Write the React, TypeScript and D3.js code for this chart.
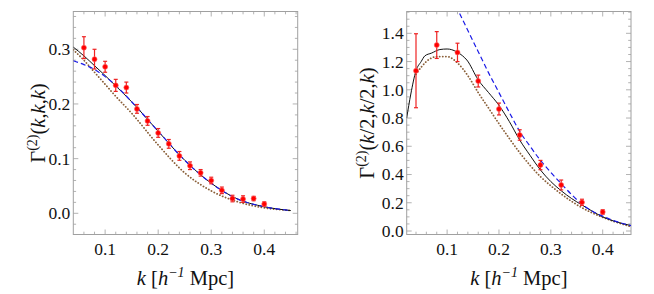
import React from "react";
import * as d3 from "d3";

// ---------- data: left panel Γ(2)(k,k,k) ----------
const leftPointK = [0.06, 0.08, 0.10, 0.12, 0.14, 0.16, 0.18, 0.20, 0.22, 0.24, 0.26, 0.28, 0.30, 0.32, 0.34, 0.36, 0.38, 0.40];
const leftPointVal = [0.303, 0.282, 0.268, 0.234, 0.230, 0.191, 0.169, 0.147, 0.127, 0.105, 0.087, 0.074, 0.060, 0.042, 0.027, 0.026, 0.027, 0.017];
const leftPointErr = [0.020, 0.018, 0.010, 0.011, 0.010, 0.008, 0.008, 0.008, 0.008, 0.008, 0.007, 0.006, 0.006, 0.006, 0.006, 0.006, 0.004, 0.004];

const leftCurveK = [0.04, 0.06, 0.08, 0.10, 0.12, 0.15, 0.20, 0.25, 0.30, 0.35, 0.40, 0.45];
const leftBlack = [0.304, 0.288, 0.270, 0.252, 0.233, 0.204, 0.150, 0.097, 0.055, 0.026, 0.012, 0.005];
const leftBlue = [0.279, 0.272, 0.263, 0.250, 0.234, 0.204, 0.150, 0.097, 0.055, 0.026, 0.012, 0.005];
const leftBrown = [0.299, 0.280, 0.258, 0.236, 0.214, 0.183, 0.125, 0.074, 0.041, 0.021, 0.010, 0.005];

// ---------- data: right panel Γ(2)(k/2,k/2,k) ----------
const rightPointK = [0.04, 0.08, 0.12, 0.16, 0.20, 0.24, 0.28, 0.32, 0.36, 0.40];
const rightPointVal = [1.135, 1.317, 1.265, 1.062, 0.864, 0.680, 0.467, 0.326, 0.203, 0.135];
const rightPointErr = [0.262, 0.095, 0.065, 0.042, 0.042, 0.037, 0.033, 0.035, 0.022, 0.016];

const rightBlackK = [0.022, 0.03, 0.04, 0.05, 0.057, 0.07, 0.086, 0.10, 0.118, 0.13, 0.138, 0.16, 0.18, 0.20, 0.22, 0.24, 0.26, 0.28, 0.30, 0.32, 0.34, 0.36, 0.38, 0.40, 0.42, 0.455];
const rightBlack = [0.80, 0.97, 1.135, 1.20, 1.24, 1.26, 1.285, 1.289, 1.27, 1.24, 1.211, 1.07, 0.98, 0.89, 0.775, 0.644, 0.535, 0.432, 0.35, 0.285, 0.23, 0.184, 0.14, 0.10, 0.072, 0.038];

const rightBrownK = [0.04, 0.05, 0.06, 0.08, 0.10, 0.12, 0.14, 0.16, 0.18, 0.20, 0.22, 0.24, 0.26, 0.28, 0.30, 0.32, 0.34, 0.36, 0.38, 0.40, 0.42, 0.455];
const rightBrown = [1.11, 1.16, 1.20, 1.235, 1.235, 1.19, 1.10, 0.98, 0.87, 0.76, 0.655, 0.555, 0.465, 0.385, 0.32, 0.262, 0.21, 0.165, 0.128, 0.097, 0.07, 0.03];

const rightBlueK = [0.11, 0.12, 0.14, 0.16, 0.18, 0.20, 0.22, 0.24, 0.26, 0.28, 0.30, 0.32, 0.34, 0.36, 0.38, 0.40, 0.42, 0.455];
const rightBlue = [1.64, 1.57, 1.42, 1.27, 1.12, 0.98, 0.84, 0.705, 0.60, 0.50, 0.415, 0.335, 0.258, 0.19, 0.14, 0.105, 0.075, 0.038];

// ---------- ticks ----------
const xMajorTicks = [0.1, 0.2, 0.3, 0.4];
const leftYMajorTicks = [0.0, 0.1, 0.2, 0.3];
const rightYMajorTicks = [0.0, 0.2, 0.4, 0.6, 0.8, 1.0, 1.2, 1.4];

const FRAME = "#a0a0a0";
const CSS = `svg.chart text, svg.chart tspan { font-family: "Liberation Serif", "Times New Roman" !important; }`;

function range(a: number, b: number, step: number) {
  const out: number[] = [];
  for (let v = a; v <= b + 1e-9; v += step) out.push(+v.toFixed(4));
  return out;
}

type PanelProps = {
  x0: number; x1: number; y0: number; y1: number;
  xDomain: [number, number]; yDomain: [number, number];
  yMajor: number[]; yMinorStep: number; yFormat: (v: number) => string;
  points: { k: number[]; v: number[]; e: number[] };
  black: { k: number[]; v: number[] };
  blue: { k: number[]; v: number[] };
  brown: { k: number[]; v: number[] };
  id: string;
  ylabel: React.ReactNode;
  ylabelX: number;
};

function Panel(p: PanelProps) {
  const x = d3.scaleLinear().domain(p.xDomain).range([p.x0, p.x1]);
  const y = d3.scaleLinear().domain(p.yDomain).range([p.y1, p.y0]);
  const line = d3
    .line<[number, number]>()
    .x((d) => x(d[0]))
    .y((d) => y(d[1]))
    .curve(d3.curveMonotoneX);
  const mk = (s: { k: number[]; v: number[] }) => line(s.k.map((k, i) => [k, s.v[i]]) as [number, number][]) || "";

  const xMinor = range(0.02, 0.46, 0.02).filter((v) => v > p.xDomain[0] && v < p.xDomain[1]);
  const yMinor = range(-0.1, 1.6, p.yMinorStep).filter((v) => v > p.yDomain[0] && v < p.yDomain[1]);
  const isMajor = (v: number, arr: number[]) => arr.some((m) => Math.abs(m - v) < 1e-6);
  const maj = 5, mnr = 2.8;

  const cx = (p.x0 + p.x1) / 2;
  const cy = (p.y0 + p.y1) / 2;

  return (
    <g>
      <defs>
        <clipPath id={p.id}>
          <rect x={p.x0} y={p.y0} width={p.x1 - p.x0} height={p.y1 - p.y0} />
        </clipPath>
      </defs>
      {/* ticks */}
      <g stroke={FRAME} strokeWidth={0.8}>
        {xMinor.map((v) => {
          const L = isMajor(v, xMajorTicks) ? maj : mnr;
          return (
            <g key={"xt" + v}>
              <line x1={x(v)} x2={x(v)} y1={p.y1} y2={p.y1 - L} />
              <line x1={x(v)} x2={x(v)} y1={p.y0} y2={p.y0 + L} />
            </g>
          );
        })}
        {yMinor.map((v) => {
          const L = isMajor(v, p.yMajor) ? maj : mnr;
          return (
            <g key={"yt" + v}>
              <line x1={p.x0} x2={p.x0 + L} y1={y(v)} y2={y(v)} />
              <line x1={p.x1} x2={p.x1 - L} y1={y(v)} y2={y(v)} />
            </g>
          );
        })}
      </g>
      <rect x={p.x0} y={p.y0} width={p.x1 - p.x0} height={p.y1 - p.y0} fill="none" stroke={FRAME} strokeWidth={1} />
      {/* tick labels */}
      <g fill="#111">
        {xMajorTicks.map((v) => (
          <text key={"xl" + v} x={x(v)} y={p.y1 + 20.5} textAnchor="middle" fontFamily="Liberation Serif" fontSize={17.5}>
            {v.toFixed(1)}
          </text>
        ))}
        {p.yMajor.map((v) => (
          <text key={"yl" + v} x={p.x0 - 3} y={y(v)} dy="0.34em" textAnchor="end" fontFamily="Liberation Serif" fontSize={17.5}>
            {p.yFormat(v)}
          </text>
        ))}
      </g>
      {/* curves */}
      <g clipPath={`url(#${p.id})`} fill="none">
        <path d={mk(p.brown)} stroke="#8a5f38" strokeWidth={1.8} strokeDasharray="0.1 3" strokeLinecap="round" />
        <path d={mk(p.black)} stroke="#111" strokeWidth={1} />
        <path d={mk(p.blue)} stroke="#1a1ae6" strokeWidth={1.2} strokeDasharray="5 3" />
      </g>
      {/* data points */}
      <g>
        {p.points.k.map((k, i) => {
          const px = x(k);
          const top = y(p.points.v[i] + p.points.e[i]);
          const bot = y(p.points.v[i] - p.points.e[i]);
          return (
            <g key={"pt" + i} stroke="#ee2222" strokeWidth={1.2}>
              <line x1={px} x2={px} y1={top} y2={bot} />
              <line x1={px - 2} x2={px + 2} y1={top} y2={top} />
              <line x1={px - 2} x2={px + 2} y1={bot} y2={bot} />
              <circle cx={px} cy={y(p.points.v[i])} r={2.5} fill="#ff0000" stroke="#ff6666" strokeWidth={0.6} />
            </g>
          );
        })}
      </g>
      {/* axis titles */}
      <text x={cx} y={p.y1 + 50} textAnchor="middle" fontFamily="Liberation Serif" fontSize={20.5} fill="#111">
        <tspan fontStyle="italic">k</tspan>
        <tspan> [</tspan>
        <tspan fontStyle="italic">h</tspan>
        <tspan fontStyle="italic" fontSize={14} dy={-8}>−1</tspan>
        <tspan dy={8}> Mpc]</tspan>
      </text>
      <text
        transform={`translate(${p.ylabelX},${cy}) rotate(-90)`}
        textAnchor="middle"
        fontFamily="Liberation Serif"
        fontSize={20.5}
        fill="#111"
      >
        {p.ylabel}
      </text>
    </g>
  );
}

export default function App() {
  const yTop = 11.5, yBot = 234.5;
  return (
    <svg
      className="chart"
      width={654}
      height={294}
      fontFamily="Liberation Serif"
      style={{ position: "absolute", left: 0, top: 0, background: "#fff", fontFamily: '"Liberation Serif"' }}
    >
      <style>{CSS}</style>
      <rect width={654} height={294} fill="#fff" />
      <Panel
        id="clipL"
        x0={73.3}
        x1={297.7}
        y0={yTop}
        y1={yBot}
        xDomain={[0.04, 0.463]}
        yDomain={[-(yBot - 213.3) / 546.7, (213.3 - yTop) / 546.7]}
        yMajor={leftYMajorTicks}
        yMinorStep={0.02}
        yFormat={(v) => v.toFixed(1)}
        points={{ k: leftPointK, v: leftPointVal, e: leftPointErr }}
        black={{ k: leftCurveK, v: leftBlack }}
        blue={{ k: leftCurveK, v: leftBlue }}
        brown={{ k: leftCurveK, v: leftBrown }}
        ylabelX={44.5}
        ylabel={
          <>
            <tspan>Γ</tspan>
            <tspan fontSize={14} dy={-8}>(2)</tspan>
            <tspan dy={8}>(</tspan>
            <tspan fontStyle="italic">k</tspan>
            <tspan>,</tspan>
            <tspan fontStyle="italic">k</tspan>
            <tspan>,</tspan>
            <tspan fontStyle="italic">k</tspan>
            <tspan>)</tspan>
          </>
        }
      />
      <Panel
        id="clipR"
        x0={406.7}
        x1={631}
        y0={yTop}
        y1={yBot}
        xDomain={[0.04 - 9.3 / 518.6, 0.4 + 28.3 / 518.6]}
        yDomain={[-(yBot - 231) / 141.2, (231 - yTop) / 141.2]}
        yMajor={rightYMajorTicks}
        yMinorStep={0.05}
        yFormat={(v) => v.toFixed(1)}
        points={{ k: rightPointK, v: rightPointVal, e: rightPointErr }}
        black={{ k: rightBlackK, v: rightBlack }}
        blue={{ k: rightBlueK, v: rightBlue }}
        brown={{ k: rightBrownK, v: rightBrown }}
        ylabelX={374}
        ylabel={
          <>
            <tspan>Γ</tspan>
            <tspan fontSize={14} dy={-8}>(2)</tspan>
            <tspan dy={8}>(</tspan>
            <tspan fontStyle="italic">k</tspan>
            <tspan>/2,</tspan>
            <tspan fontStyle="italic">k</tspan>
            <tspan>/2,</tspan>
            <tspan fontStyle="italic">k</tspan>
            <tspan>)</tspan>
          </>
        }
      />
    </svg>
  );
}
